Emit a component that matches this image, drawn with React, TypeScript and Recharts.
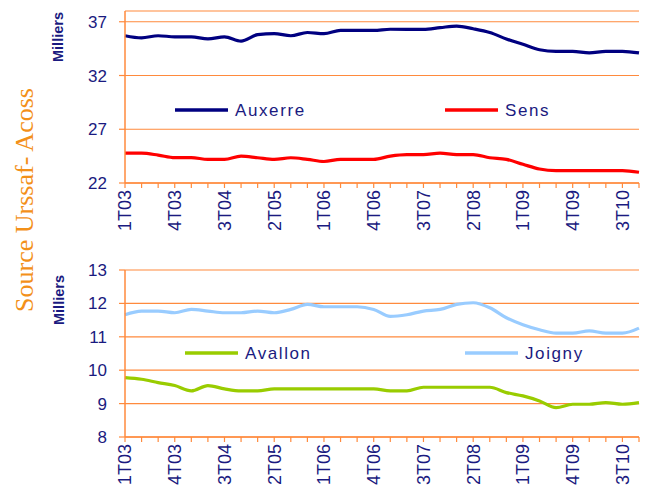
import { LineChart, Line, XAxis, YAxis, CartesianGrid } from "recharts";

const QUARTERS = [
  "1T03", "2T03", "3T03", "4T03", "1T04", "2T04", "3T04", "4T04",
  "1T05", "2T05", "3T05", "4T05", "1T06", "2T06", "3T06", "4T06",
  "1T07", "2T07", "3T07", "4T07", "1T08", "2T08", "3T08", "4T08",
  "1T09", "2T09", "3T09", "4T09", "1T10", "2T10", "3T10", "4T10",
];

const AUXERRE = [
  35.7, 35.5, 35.7, 35.6, 35.6, 35.4, 35.6, 35.2, 35.8, 35.9, 35.7, 36.0,
  35.9, 36.2, 36.2, 36.2, 36.3, 36.3, 36.3, 36.45, 36.6, 36.35, 36.0, 35.4,
  34.9, 34.4, 34.25, 34.25, 34.1, 34.25, 34.25, 34.1,
];
const SENS = [
  24.77, 24.77, 24.6, 24.36, 24.36, 24.2, 24.2, 24.5, 24.35, 24.2, 24.35, 24.2,
  24.0, 24.2, 24.2, 24.2, 24.5, 24.64, 24.64, 24.77, 24.64, 24.64, 24.35, 24.2,
  23.74, 23.3, 23.15, 23.15, 23.15, 23.15, 23.15, 23.0,
];
const AVALLON = [
  9.78, 9.73, 9.63, 9.54, 9.38, 9.54, 9.44, 9.38, 9.38, 9.44, 9.44, 9.44,
  9.44, 9.44, 9.44, 9.44, 9.38, 9.38, 9.49, 9.49, 9.49, 9.49, 9.49, 9.33,
  9.23, 9.08, 8.88, 8.98, 8.98, 9.03, 8.98, 9.03,
];
const JOIGNY = [
  11.66, 11.77, 11.77, 11.72, 11.82, 11.77, 11.72, 11.72, 11.77, 11.72, 11.82, 11.97,
  11.9, 11.9, 11.9, 11.82, 11.61, 11.66, 11.77, 11.82, 11.97, 12.02, 11.87, 11.57,
  11.36, 11.21, 11.11, 11.11, 11.18, 11.11, 11.11, 11.26,
];

const TOP_TICKS = [22, 27, 32, 37];
const BOTTOM_TICKS = [8, 9, 10, 11, 12, 13];

const NAVY = "#1a1a80";
const ORANGE = "#ff8a3d";
const FONT = "'Liberation Sans', Arial, sans-serif";

const topData = QUARTERS.map((q, i) => ({ q, Auxerre: AUXERRE[i], Sens: SENS[i] }));
const bottomData = QUARTERS.map((q, i) => ({ q, Avallon: AVALLON[i], Joigny: JOIGNY[i] }));

function QuarterTick(props: any) {
  const { x, y, payload } = props;
  const idx = QUARTERS.indexOf(payload.value);
  if (idx % 3 !== 0) return null;
  return (
    <text
      x={x}
      y={y}
      transform={`rotate(-90, ${x}, ${y})`}
      textAnchor="end"
      dy="0.36em"
      fill={NAVY}
      fontSize={18}
      fontFamily={FONT}
    >
      {payload.value}
    </text>
  );
}

function Panel({ data, keys, colors, domain, ticks, height, top, xHeight }: any) {
  return (
    <LineChart
      width={646}
      height={height}
      data={data}
      margin={{ top, right: 7, left: 0, bottom: 0 }}
    >
      <CartesianGrid horizontal vertical={false} stroke={ORANGE} strokeWidth={1.2} />
      <XAxis
        dataKey="q"
        interval={0}
        height={xHeight}
        tick={<QuarterTick />}
        tickSize={5}
        tickMargin={2}
        axisLine={{ stroke: ORANGE, strokeWidth: 1.5 }}
        tickLine={{ stroke: ORANGE, strokeWidth: 1.2 }}
      />
      <YAxis
        width={125}
        domain={domain}
        ticks={ticks}
        interval={0}
        tickSize={6}
        tickMargin={12}
        axisLine={{ stroke: ORANGE, strokeWidth: 1.5 }}
        tickLine={{ stroke: ORANGE, strokeWidth: 1.2 }}
        tick={{ fill: NAVY, fontSize: 17, fontFamily: FONT }}
        allowDataOverflow
      />
      {keys.map((k: string, i: number) => (
        <Line
          key={k}
          dataKey={k}
          type="monotone"
          stroke={colors[i]}
          strokeWidth={3.2}
          dot={false}
          isAnimationActive={false}
        />
      ))}
    </LineChart>
  );
}

const LEGENDS = [
  { name: "Auxerre", color: "#000080", x: 175, y: 110 },
  { name: "Sens", color: "#ff0000", x: 445, y: 110 },
  { name: "Avallon", color: "#99cc00", x: 185, y: 353 },
  { name: "Joigny", color: "#99ccff", x: 465, y: 353 },
];

export default function App() {
  return (
    <div style={{ position: "absolute", left: 0, top: 0, width: 646, height: 488, background: "#fff", overflow: "hidden" }}>
      <div style={{ position: "absolute", left: 0, top: 0 }}>
        <Panel
          data={topData}
          keys={["Auxerre", "Sens"]}
          colors={["#000080", "#ff0000"]}
          domain={[22, 38]}
          ticks={TOP_TICKS}
          height={250}
          top={11}
          xHeight={67}
        />
      </div>
      <div style={{ position: "absolute", left: 0, top: 250 }}>
        <Panel
          data={bottomData}
          keys={["Avallon", "Joigny"]}
          colors={["#99cc00", "#99ccff"]}
          domain={[8, 13]}
          ticks={BOTTOM_TICKS}
          height={238}
          top={20}
          xHeight={51}
        />
      </div>
      <svg width={646} height={488} style={{ position: "absolute", left: 0, top: 0, pointerEvents: "none" }}>
        <text transform="translate(33,200) rotate(-90)" textAnchor="middle" fill="#f39019" fontSize={26} fontFamily="'Liberation Serif', 'Times New Roman', serif">
          Source Urssaf- Acoss
        </text>
        <text transform="translate(63,37) rotate(-90)" textAnchor="middle" fill={NAVY} fontSize={14.5} fontWeight="bold" fontFamily={FONT}>
          Milliers
        </text>
        <text transform="translate(64,300) rotate(-90)" textAnchor="middle" fill={NAVY} fontSize={14.5} fontWeight="bold" fontFamily={FONT}>
          Milliers
        </text>
        {LEGENDS.map((l) => (
          <g key={l.name}>
            <line x1={l.x} x2={l.x + 53} y1={l.y} y2={l.y} stroke={l.color} strokeWidth={3.5} />
            <text x={l.x + 60} y={l.y} dy="0.36em" fill={NAVY} fontSize={17} letterSpacing={1.6} fontFamily={FONT}>
              {l.name}
            </text>
          </g>
        ))}
      </svg>
    </div>
  );
}
